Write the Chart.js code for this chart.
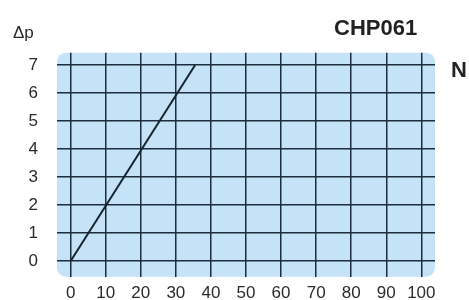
<!DOCTYPE html>
<html>
<head>
<meta charset="utf-8">
<script src="https://cdn.jsdelivr.net/npm/chart.js@4/dist/chart.umd.min.js"></script>
<style>
  html, body { margin: 0; padding: 0; background: #fff; }
  #wrap { width: 469px; height: 300px; position: relative; }
</style>
</head>
<body>
<div id="wrap"><canvas id="myChart"></canvas></div>
<script>
// flow vs pressure drop
var flow = [0, 35.5];
var dp = [0, 7];
var xTicks = [0, 10, 20, 30, 40, 50, 60, 70, 80, 90, 100];
var yTicks = [0, 1, 2, 3, 4, 5, 6, 7];

var gridColor = '#1c2d3e';
var textColor = '#2b2b2b';

// blue rounded panel behind the grid, plus the loose labels
var panel = {
    id: 'panel',
    beforeDraw: function(chart) {
        var a = chart.chartArea, c = chart.ctx;
        c.save();
        c.fillStyle = '#c4e3f6';
        c.beginPath();
        c.roundRect(a.left, a.top, a.right - a.left, a.bottom - a.top, 9);
        c.fill();
        c.restore();
    },
    afterDraw: function(chart) {
        var c = chart.ctx;
        c.save();
        c.fillStyle = textColor;
        c.textBaseline = 'alphabetic';
        c.font = '17px "Liberation Sans", Arial, sans-serif';
        c.textAlign = 'left';
        c.fillText('Δp', 13, 38);
        c.fillStyle = '#222';
        c.font = 'bold 22px "Liberation Sans", Arial, sans-serif';
        c.fillText('CHP061', 334, 35);
        c.fillText('N', 451, 77);
        c.restore();
    }
};

var ctx = document.getElementById('myChart').getContext('2d');
var myChart = new Chart(ctx, {
    type: 'scatter',
    data: {
        datasets: [{
            data: flow.map(function(v, i) { return {x: v, y: dp[i]}; }),
            showLine: true,
            borderColor: '#17232f',
            borderWidth: 2,
            pointRadius: 0,
            fill: false
        }]
    },
    options: {
        responsive: true,
        maintainAspectRatio: false,
        animation: false,
        layout: { padding: { left: 0, right: 34, top: 52.7, bottom: 0 } },
        plugins: { legend: { display: false }, tooltip: { enabled: false } },
        scales: {
            x: {
                type: 'linear',
                min: -3.9, max: 103.9,
                afterBuildTicks: function(ax) { ax.ticks = xTicks.map(function(v) { return {value: v}; }); },
                afterFit: function(ax) { ax.height = 23.3; ax.paddingLeft = 0; ax.paddingRight = 0; },
                grid: { color: gridColor, lineWidth: 1.5, drawTicks: false },
                border: { display: false },
                ticks: {
                    padding: 6,
                    color: textColor,
                    maxRotation: 0,
                    autoSkip: false,
                    font: { family: '"Liberation Sans", Arial, sans-serif', size: 17 }
                }
            },
            y: {
                type: 'linear',
                min: -0.56, max: 7.44,
                afterBuildTicks: function(ax) { ax.ticks = yTicks.map(function(v) { return {value: v}; }); },
                afterFit: function(ax) { ax.width = 57; ax.paddingTop = 0; ax.paddingBottom = 0; },
                grid: { color: gridColor, lineWidth: 1.5, drawTicks: false },
                border: { display: false },
                ticks: {
                    padding: 19,
                    color: textColor,
                    autoSkip: false,
                    font: { family: '"Liberation Sans", Arial, sans-serif', size: 17 }
                }
            }
        }
    },
    plugins: [panel]
});
</script>
</body>
</html>
